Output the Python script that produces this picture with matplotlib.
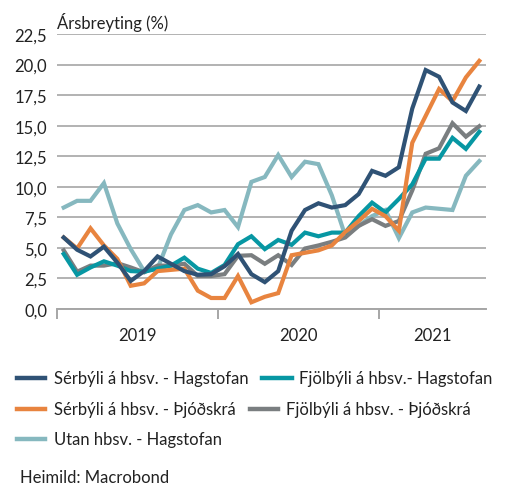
import matplotlib
matplotlib.use("Agg")
import matplotlib.pyplot as plt
from matplotlib.lines import Line2D
import numpy as np

plt.rcParams['font.family'] = ['Lato', 'DejaVu Sans']

months = 32  # Jan 2019 - Aug 2021
years = ["2019", "2020", "2021"]
yticks = [0, 2.5, 5, 7.5, 10, 12.5, 15, 17.5, 20, 22.5]

serbyli_hag = [5.85, 4.85, 4.3, 5.1, 3.8, 2.3, 3.1, 4.3, 3.7, 3.1, 2.8, 2.85, 3.5, 4.5, 2.85, 2.2,
               3.1, 6.4, 8.1, 8.65, 8.3, 8.5, 9.4, 11.3, 10.9, 11.6, 16.4, 19.55, 19.0, 16.9, 16.2, 18.2]
fjolbyli_hag = [4.5, 2.8, 3.4, 3.9, 3.55, 3.1, 3.05, 3.3, 3.55, 4.2, 3.3, 2.95, 3.6, 5.3, 5.95, 4.9,
                5.65, 5.25, 6.25, 5.95, 6.25, 6.25, 7.6, 8.7, 7.9, 9.0, 10.2, 12.3, 12.3, 14.0, 13.1, 14.5]
serbyli_thj = [5.85, 4.95, 6.6, 5.2, 4.1, 1.9, 2.1, 3.1, 3.2, 3.3, 1.5, 0.9, 0.9, 2.7, 0.55, 1.0,
               1.3, 4.4, 4.6, 4.8, 5.2, 6.3, 7.2, 8.2, 7.6, 6.4, 13.6, 15.8, 18.0, 17.0, 18.95, 20.3]
fjolbyli_thj = [4.8, 3.05, 3.55, 3.55, 3.75, 3.4, 3.0, 3.55, 3.55, 3.7, 2.7, 2.7, 2.85, 4.35, 4.4, 3.7,
                4.4, 3.6, 4.95, 5.2, 5.5, 5.85, 6.8, 7.35, 6.8, 7.2, 9.7, 12.7, 13.15, 15.2, 14.1, 14.95]
utan_hag = [8.3, 8.85, 8.85, 10.3, 7.0, 4.9, 3.1, 3.3, 6.1, 8.1, 8.5, 7.9, 8.1, 6.7, 10.4, 10.8,
            12.6, 10.8, 12.05, 11.85, 9.3, 6.0, 6.8, 7.6, 8.1, 5.8, 7.9, 8.3, 8.2, 8.1, 10.9, 12.1]

labels = ["Sérbýli á hbsv. - Hagstofan", "Fjölbýli á hbsv.- Hagstofan",
          "Sérbýli á hbsv. - Þjóðskrá", "Fjölbýli á hbsv. - Þjóðskrá",
          "Utan hbsv. - Hagstofan"]
series = [serbyli_hag, fjolbyli_hag, serbyli_thj, fjolbyli_thj, utan_hag]
colors = ["#2F5275", "#0797A3", "#E8843F", "#7A7E80", "#86B8BF"]
zorders = [6, 4, 5, 3, 2]

FS = 12

fig = plt.figure(figsize=(5.06, 4.85), dpi=100)
ax = fig.add_axes([57/506, 1-310/485, (486-57)/506, 275/485])

x = np.arange(months) + 0.5
for s, c, z, l in zip(series, colors, zorders, labels):
    ax.plot(x, s, color=c, lw=3.0, zorder=z, label=l, solid_joinstyle='miter')

ax.set_xlim(0, months)
ax.set_ylim(0, 22.5)
ax.set_yticks(yticks)
ax.set_yticklabels([f"{v:.1f}".replace('.', ',') for v in yticks], fontsize=FS, color="#222222")
ax.grid(axis='y', color="#A6A6A6", lw=1.2)
ax.set_axisbelow(True)
for sp in ['top', 'right', 'left']:
    ax.spines[sp].set_visible(False)
ax.spines['bottom'].set_color("#A6A6A6")
ax.spines['bottom'].set_linewidth(1.4)
ax.tick_params(axis='y', length=0, pad=7)
ax.set_xticks([0, 12, 24])
ax.set_xticklabels([])
ax.tick_params(axis='x', length=7, width=1.4, color="#A6A6A6", direction='out')
for i, yl in enumerate(years):
    ax.text(i*12 + 6 if i < 2 else (24 + months) / 2, -1.5, yl, ha='center', va='top',
            fontsize=FS, color="#222222", transform=ax.transData, clip_on=False)

fig.text(57/506, 1-22/485, "Ársbreyting (%)", fontsize=FS, ha='left', va='center', color="#222222")

# Legend (manual, Excel-like flow)
entries = [
    (17, 45, 54, 379, 0), (262, 292, 299, 379, 1),
    (17, 45, 54, 410, 2), (250, 278, 286, 410, 3),
    (17, 45, 54, 440, 4),
]
for x0, x1, tx, yy, k in entries:
    fig.add_artist(Line2D([x0/506, x1/506], [1-yy/485, 1-yy/485], color=colors[k], lw=3.2,
                          transform=fig.transFigure))
    fig.text(tx/506, 1-yy/485, labels[k], fontsize=FS, ha='left', va='center', color="#222222")

fig.text(20/506, 1-478/485, "Heimild: Macrobond", fontsize=FS, ha='left', va='center', color="#222222")

fig.savefig("out.png", dpi=100)
